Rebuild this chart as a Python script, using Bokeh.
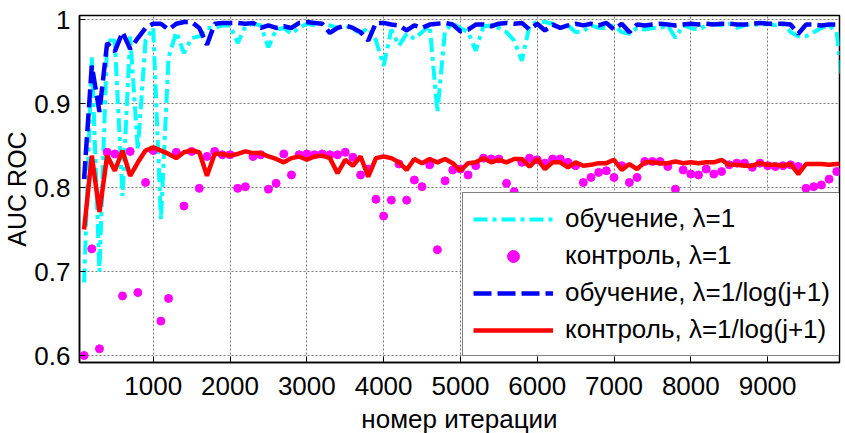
from bokeh.plotting import figure
from bokeh.models import Range1d, FixedTicker, CustomJSTickFormatter, Legend, LegendItem
from bokeh.embed import file_html
from bokeh.resources import INLINE

iterations = list(range(100, 10001, 100))

train_const = [
    0.687, 0.955, 0.700, 0.975, 0.975, 0.790, 0.980, 0.845, 0.975, 0.990,
    0.762, 0.955, 0.985, 0.960, 0.978, 0.980, 0.990, 0.990, 0.993, 0.993,
    0.972, 0.992, 0.995, 0.993, 0.967, 0.988, 0.990, 0.983, 0.990, 0.995,
    0.993, 0.995, 0.993, 0.990, 0.993, 0.988, 0.984, 0.990, 0.975, 0.945,
    0.988, 0.969, 0.983, 0.977, 0.985, 0.993, 0.890, 0.987, 0.995, 0.990,
    0.985, 0.963, 0.992, 0.993, 0.990, 0.985, 0.975, 0.951, 0.993, 0.997,
    0.997, 0.995, 0.990, 0.993, 0.985, 0.986, 0.993, 0.990, 0.990, 0.993,
    0.985, 0.983, 0.990, 0.988, 0.990, 0.990, 0.993, 0.978, 0.993, 0.990,
    0.988, 0.993, 0.995, 0.993, 0.995, 0.990, 0.993, 0.995, 0.993, 0.995,
    0.993, 0.995, 0.985, 0.980, 0.980, 0.985, 0.990, 0.993, 0.985, 0.900,
]

test_const = [
    0.600, 0.727, 0.608, 0.842, 0.840, 0.671, 0.843, 0.675, 0.806, 0.844,
    0.641, 0.668, 0.842, 0.778, 0.843, 0.799, 0.837, 0.843, 0.839, 0.839,
    0.799, 0.801, 0.837, 0.839, 0.798, 0.805, 0.840, 0.815, 0.839, 0.840,
    0.839, 0.840, 0.839, 0.839, 0.842, 0.836, 0.815, 0.822, 0.786, 0.766,
    0.785, 0.828, 0.785, 0.809, 0.801, 0.827, 0.726, 0.808, 0.821, 0.822,
    0.815, 0.826, 0.835, 0.834, 0.834, 0.805, 0.795, 0.830, 0.835, 0.833,
    0.829, 0.834, 0.834, 0.830, 0.826, 0.806, 0.812, 0.818, 0.820, 0.812,
    0.826, 0.806, 0.812, 0.831, 0.831, 0.831, 0.825, 0.798, 0.821, 0.816,
    0.815, 0.822, 0.816, 0.819, 0.827, 0.829, 0.829, 0.824, 0.829, 0.826,
    0.825, 0.826, 0.827, 0.825, 0.799, 0.801, 0.803, 0.810, 0.819, 0.826,
]

train_log = [
    0.810, 0.945, 0.890, 0.972, 0.962, 0.985, 0.965, 0.978, 0.990, 0.995,
    0.995, 0.988, 0.995, 0.997, 0.997, 0.990, 0.970, 0.995, 0.996, 0.996,
    0.996, 0.995, 0.996, 0.990, 0.993, 0.990, 0.992, 0.990, 0.996, 0.997,
    0.996, 0.995, 0.984, 0.990, 0.993, 0.990, 0.985, 0.975, 0.996, 0.996,
    0.994, 0.993, 0.987, 0.993, 0.990, 0.994, 0.995, 0.996, 0.994, 0.986,
    0.988, 0.994, 0.994, 0.992, 0.995, 0.996, 0.995, 0.996, 0.988, 0.995,
    0.987, 0.994, 0.990, 0.993, 0.995, 0.993, 0.995, 0.993, 0.996, 0.988,
    0.995, 0.985, 0.994, 0.993, 0.994, 0.995, 0.994, 0.993, 0.994, 0.995,
    0.994, 0.995, 0.994, 0.995, 0.995, 0.994, 0.994, 0.995, 0.996, 0.995,
    0.995, 0.995, 0.994, 0.983, 0.994, 0.994, 0.993, 0.994, 0.994, 0.994,
]

test_log = [
    0.750, 0.838, 0.771, 0.838, 0.820, 0.844, 0.814, 0.830, 0.844, 0.848,
    0.844, 0.840, 0.835, 0.842, 0.844, 0.842, 0.814, 0.840, 0.840, 0.838,
    0.840, 0.843, 0.841, 0.841, 0.837, 0.834, 0.830, 0.835, 0.837, 0.833,
    0.837, 0.838, 0.835, 0.817, 0.833, 0.826, 0.837, 0.813, 0.835, 0.837,
    0.835, 0.830, 0.821, 0.834, 0.829, 0.834, 0.830, 0.834, 0.829, 0.820,
    0.829, 0.830, 0.835, 0.830, 0.833, 0.830, 0.834, 0.834, 0.825, 0.834,
    0.822, 0.830, 0.830, 0.824, 0.830, 0.826, 0.827, 0.829, 0.829, 0.833,
    0.821, 0.828, 0.822, 0.830, 0.830, 0.829, 0.829, 0.831, 0.829, 0.830,
    0.829, 0.830, 0.830, 0.833, 0.827, 0.827, 0.826, 0.826, 0.829, 0.827,
    0.827, 0.826, 0.828, 0.816, 0.828, 0.828, 0.828, 0.827, 0.828, 0.828,
]

x_ticks = [1000, 2000, 3000, 4000, 5000, 6000, 7000, 8000, 9000]
y_ticks = [0.6, 0.7, 0.8, 0.9, 1.0]
labels = ["обучение, λ=1", "контроль, λ=1",
          "обучение, λ=1/log(j+1)", "контроль, λ=1/log(j+1)"]

FONT = "Liberation Sans"
FS = "26px"

p = figure(output_backend="svg", toolbar_location=None,
           frame_width=760, frame_height=347,
           x_range=Range1d(40, 9936), y_range=Range1d(0.5917, 1.0048),
           min_border_left=75, min_border_right=2, min_border_top=15,
           min_border_bottom=63)

p.background_fill_color = "white"
p.border_fill_color = "white"
p.outline_line_color = "black"
p.outline_line_width = 1.5

r1 = p.line(iterations, train_const, line_color="#00FFFF", line_width=4,
            line_dash="14 5 4 5")
r2 = p.scatter(iterations, test_const, size=8, fill_color="#FF00FF",
               line_color="#FF00FF")
r3 = p.line(iterations, train_log, line_color="#0000FF", line_width=4.5,
            line_dash="18 6")
r4 = p.line(iterations, test_log, line_color="#FF0000", line_width=4.5)

for ax in (p.xaxis[0], p.yaxis[0]):
    ax.axis_line_color = "black"
    ax.axis_line_width = 1.5
    ax.major_tick_in = 6
    ax.major_tick_out = 0
    ax.minor_tick_line_color = None
    ax.major_tick_line_color = "black"
    ax.major_label_text_font = FONT
    ax.major_label_text_font_size = FS
    ax.major_label_text_color = "black"
    ax.axis_label_text_font = FONT
    ax.axis_label_text_font_size = FS
    ax.axis_label_text_font_style = "normal"
    ax.axis_label_text_color = "black"

p.yaxis.axis_label_text_font_size = "25px"
p.xaxis.ticker = FixedTicker(ticks=x_ticks)
p.yaxis.ticker = FixedTicker(ticks=y_ticks)
p.yaxis.formatter = CustomJSTickFormatter(
    code="return Math.abs(tick - 1) < 1e-9 ? '1' : tick.toFixed(1);")
p.xaxis.major_label_standoff = 14
p.yaxis.major_label_standoff = 9
p.xaxis.axis_label = "номер итерации"
p.yaxis.axis_label = "AUC ROC"
p.xaxis.axis_label_standoff = 6
p.yaxis.axis_label_standoff = 0

for g in (p.xgrid[0], p.ygrid[0]):
    g.grid_line_color = "#7a7a7a"
    g.grid_line_dash = "2 2"
    g.grid_line_width = 1

legend = Legend(items=[
    LegendItem(label=labels[0], renderers=[r1]),
    LegendItem(label=labels[1], renderers=[r2]),
    LegendItem(label=labels[2], renderers=[r3]),
    LegendItem(label=labels[3], renderers=[r4]),
], location=(383, 6))
legend.label_text_font = FONT
legend.label_text_font_size = FS
legend.label_text_color = "black"
legend.glyph_width = 80
legend.glyph_height = 30
legend.label_height = 30
legend.spacing = 6
legend.padding = 10
legend.margin = 0
legend.label_standoff = 12
legend.border_line_color = "black"
legend.border_line_width = 1.5
legend.background_fill_color = "white"
legend.background_fill_alpha = 1
p.add_layout(legend, "center")

open("out.html", "w").write(file_html(p, INLINE))
